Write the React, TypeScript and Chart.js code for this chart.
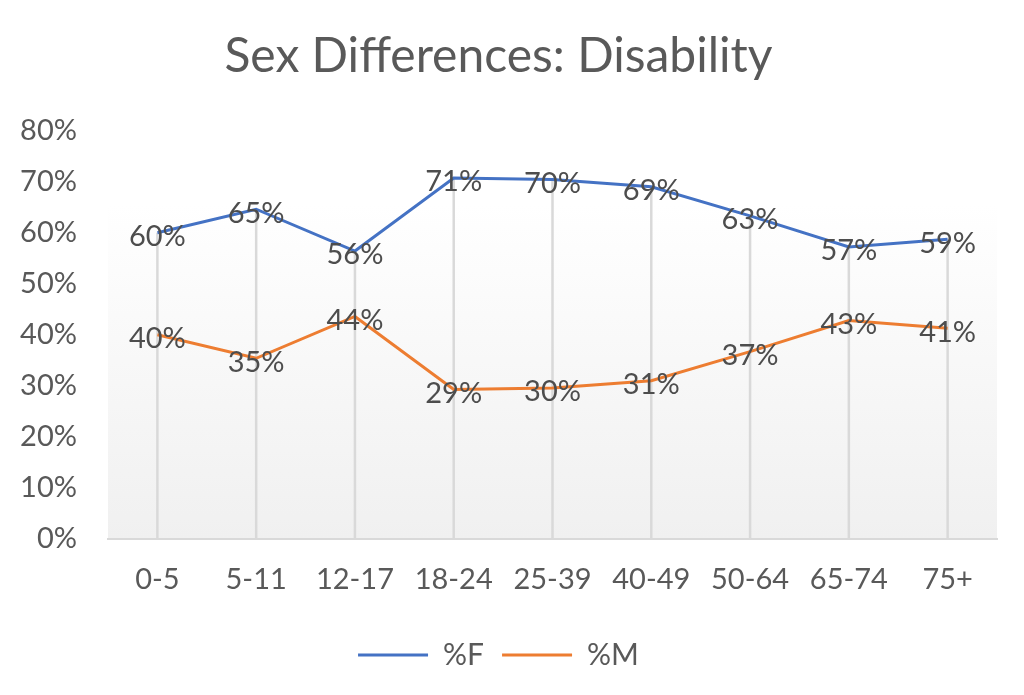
import React, { useEffect, useRef } from "react";
import { Chart, registerables } from "chart.js";

Chart.register(...registerables);

const categories = ["0-5", "5-11", "12-17", "18-24", "25-39", "40-49", "50-64", "65-74", "75+"];
const femaleValues = [60.0, 64.6, 56.4, 70.7, 70.4, 69.0, 63.3, 57.2, 58.7];
const maleValues = [40.0, 35.4, 43.6, 29.3, 29.6, 31.0, 36.7, 42.8, 41.3];
const yTicks = [0, 10, 20, 30, 40, 50, 60, 70, 80];

const FONT = "Lato, 'Open Sans', sans-serif";
const TEXT = "#595959";

const bgPlugin = {
  id: "bgPlugin",
  beforeDraw(chart: any) {
    const { ctx, chartArea } = chart;
    const top = chartArea.top + (chartArea.bottom - chartArea.top) * 0.18;
    const g = ctx.createLinearGradient(0, top, 0, chartArea.bottom);
    g.addColorStop(0, "#ffffff");
    g.addColorStop(1, "#f0f0f0");
    ctx.save();
    ctx.fillStyle = g;
    ctx.fillRect(chartArea.left, top, chartArea.right - chartArea.left, chartArea.bottom - top);
    ctx.restore();
  },
  beforeDatasetsDraw(chart: any) {
    const { ctx, chartArea } = chart;
    const meta = chart.getDatasetMeta(0);
    const meta2 = chart.getDatasetMeta(1);
    ctx.save();
    ctx.strokeStyle = "#d9d9d9";
    ctx.lineWidth = 2.5;
    meta.data.forEach((pt: any, i: number) => {
      const p2 = meta2.data[i];
      const y = Math.min(pt.y, p2 ? p2.y : pt.y);
      ctx.beginPath();
      ctx.moveTo(pt.x, y);
      ctx.lineTo(pt.x, chartArea.bottom);
      ctx.stroke();
    });
    ctx.restore();
  },
  afterDatasetsDraw(chart: any) {
    const { ctx } = chart;
    ctx.save();
    ctx.font = `29px ${FONT}`;
    ctx.fillStyle = "#4d4d4d";
    ctx.textAlign = "center";
    ctx.textBaseline = "middle";
    chart.data.datasets.forEach((ds: any, di: number) => {
      const meta = chart.getDatasetMeta(di);
      meta.data.forEach((pt: any, i: number) => {
        ctx.fillText(Math.round(ds.data[i]) + "%", pt.x, pt.y + 4);
      });
    });
    ctx.restore();
  },
};

export default function App() {
  const ref = useRef<HTMLCanvasElement>(null);
  useEffect(() => {
    document.body.style.margin = "0";
    const chart = new Chart(ref.current!, {
      type: "line",
      data: {
        labels: categories,
        datasets: [
          {
            label: "%F",
            data: femaleValues,
            borderColor: "#4472C4",
            backgroundColor: "#4472C4",
            borderWidth: 3,
            pointRadius: 0,
            tension: 0,
          },
          {
            label: "%M",
            data: maleValues,
            borderColor: "#ED7D31",
            backgroundColor: "#ED7D31",
            borderWidth: 3,
            pointRadius: 0,
            tension: 0,
          },
        ],
      },
      options: {
        animation: false,
        responsive: false,
        layout: { padding: { top: 0, right: 27, bottom: 15, left: 0 } },
        plugins: {
          title: {
            display: true,
            text: "Sex Differences: Disability",
            color: TEXT,
            font: { family: FONT, size: 48, weight: "normal" },
            padding: { top: 28, bottom: 45 },
          },
          legend: {
            position: "bottom",
            labels: {
              color: TEXT,
              font: { family: FONT, size: 30 },
              boxWidth: 70,
              boxHeight: 3,
              padding: 18,
              generateLabels(chart: any) {
                return chart.data.datasets.map((ds: any, i: number) => ({
                  text: ds.label,
                  fillStyle: ds.borderColor,
                  strokeStyle: ds.borderColor,
                  lineWidth: 0,
                  fontColor: TEXT,
                  datasetIndex: i,
                  hidden: false,
                }));
              },
            },
          },
          tooltip: { enabled: false },
        },
        scales: {
          x: {
            offset: true,
            grid: { display: false },
            border: { display: true, color: "#d9d9d9", width: 2 },
            ticks: { color: TEXT, font: { family: FONT, size: 29 }, padding: 15 },
            afterFit(s: any) {
              s.height = 83;
            },
          },
          y: {
            min: 0,
            max: 80,
            grid: { display: false },
            border: { display: false },
            afterBuildTicks(s: any) {
              s.ticks = yTicks.map((v) => ({ value: v }));
            },
            ticks: {
              color: TEXT,
              font: { family: FONT, size: 29 },
              padding: 23,
              callback: (v: any) => v + "%",
            },
            afterFit(s: any) {
              s.width = 108;
            },
          },
        },
      },
      plugins: [bgPlugin],
    });
    return () => chart.destroy();
  }, []);
  return (
    <div style={{ width: 1024, height: 695, background: "#fff" }}>
      <canvas ref={ref} width={1024} height={695} style={{ display: "block" }} />
    </div>
  );
}
